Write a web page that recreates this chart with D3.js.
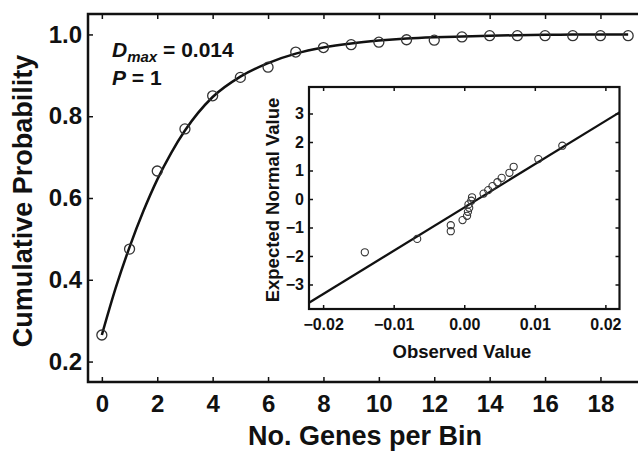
<!DOCTYPE html>
<html>
<head>
<meta charset="utf-8">
<script src="https://cdn.jsdelivr.net/npm/d3@7"></script>
<style>
  html, body { margin: 0; padding: 0; background: #fff; }
  svg { display: block; }
  text { font-family: "Liberation Sans", Arial, sans-serif; font-weight: bold; fill: #111; }
</style>
</head>
<body>
<svg id="chart" width="638" height="452"></svg>
<script>
// ---- Main chart data ----
const binX = [0,1,2,3,4,5,6,7,8,9,10,11,12,13,14,15,16,17,18,19];
const observedCum = [0.265,0.475,0.666,0.769,0.850,0.895,0.920,0.957,0.968,0.975,0.981,0.987,0.986,0.994,0.997,0.997,0.997,0.997,0.997,0.997];
const fitX = [0,0.5,1,1.5,2,2.5,3,4,5,6,7,8,9,10,11,12,13,14,15,16,17,18,19];
const fitCum = [0.265,0.38,0.48,0.568,0.645,0.71,0.765,0.847,0.897,0.930,0.953,0.968,0.978,0.985,0.990,0.993,0.995,0.997,0.998,0.999,1.0,1.0,1.0];
const mainXTicks = [0,2,4,6,8,10,12,14,16,18];
const mainYTicks = [0.2,0.4,0.6,0.8,1.0];

// ---- Inset (Q-Q) data ----
const qqObserved = [-0.01409,-0.00667,-0.00191,-0.00191,-0.00024,0.00040,0.00052,0.00070,0.00060,0.00100,0.00110,0.00274,0.00340,0.00400,0.00470,0.00530,0.00640,0.00700,0.01050,0.01390];
const qqExpected = [-1.87,-1.40,-1.13,-0.92,-0.74,-0.59,-0.45,-0.31,-0.19,-0.06,0.06,0.19,0.31,0.45,0.59,0.74,0.92,1.13,1.40,1.87];
const qqLineX = [-0.022, 0.022];
const qqLineY = [-3.64, 3.04];
const insetXTicks = [-0.02,-0.01,0.00,0.01,0.02];
const insetYTicks = [-3,-2,-1,0,1,2,3];

const svg = d3.select("#chart");
const ink = "#111";

// ---- Main scales ----
const x = d3.scaleLinear().domain([-0.5, 19.5]).range([88, 642]);
const y = d3.scaleLinear().domain([0.15, 1.05]).range([382, 14]);

// frame
svg.append("path")
  .attr("d", `M${x.range()[1]+10},${y.range()[1]} H${x.range()[0]} V${y.range()[0]} H${x.range()[1]+10}`)
  .attr("fill", "none").attr("stroke", ink).attr("stroke-width", 2.5);

const styleAxis = (g, fs) => {
  g.select(".domain").remove();
  g.selectAll(".tick line").attr("stroke", ink).attr("stroke-width", 1.5);
  g.selectAll(".tick text").style("font-size", fs + "px").attr("fill", ink);
};

svg.append("g").attr("transform", `translate(0,${y.range()[0]})`)
  .call(d3.axisBottom(x).tickValues(mainXTicks).tickSize(-5).tickPadding(13).tickFormat(d3.format("d")))
  .call(g => styleAxis(g, 24));
svg.append("g").attr("transform", `translate(0,${y.range()[1]})`)
  .call(d3.axisTop(x).tickValues(mainXTicks).tickSize(-5).tickFormat(""))
  .call(g => styleAxis(g, 24));
svg.append("g").attr("transform", `translate(${x.range()[0]},0)`)
  .call(d3.axisLeft(y).tickValues(mainYTicks).tickSize(-5).tickPadding(6).tickFormat(d3.format(".1f")))
  .call(g => styleAxis(g, 24));

// fitted curve
svg.append("path")
  .datum(fitX.map((d, i) => [d, fitCum[i]]))
  .attr("d", d3.line().x(d => x(d[0])).y(d => y(d[1])).curve(d3.curveMonotoneX))
  .attr("fill", "none").attr("stroke", ink).attr("stroke-width", 2.5);

// observed points
svg.append("g").selectAll("circle")
  .data(binX.map((d, i) => [d, observedCum[i]]))
  .join("circle")
  .attr("cx", d => x(d[0])).attr("cy", d => y(d[1])).attr("r", 5)
  .attr("fill", "none").attr("stroke", "#333").attr("stroke-width", 1.3);

// axis titles
svg.append("text")
  .attr("x", 365).attr("y", 445)
  .attr("text-anchor", "middle").style("font-size", "27px")
  .text("No. Genes per Bin");
svg.append("text")
  .attr("transform", "translate(32,201) rotate(-90)")
  .attr("text-anchor", "middle").style("font-size", "27px")
  .text("Cumulative Probability");

// annotation
const ann = svg.append("text").attr("x", 112).attr("y", 57).style("font-size", "21px");
ann.append("tspan").style("font-style", "italic").text("D");
ann.append("tspan").style("font-style", "italic").style("font-size", "15px").attr("dy", 5).text("max");
ann.append("tspan").attr("dy", -5).text(" = 0.014");
const ann2 = svg.append("text").attr("x", 112).attr("y", 85).style("font-size", "21px");
ann2.append("tspan").style("font-style", "italic").text("P");
ann2.append("tspan").text(" = 1");

// ---- Inset ----
const ix = d3.scaleLinear().domain([-0.022, 0.022]).range([309, 619.5]);
const iy = d3.scaleLinear().domain([-3.86, 3.93]).range([309, 87]);

svg.append("rect")
  .attr("x", ix.range()[0]).attr("y", iy.range()[1])
  .attr("width", ix.range()[1] - ix.range()[0]).attr("height", iy.range()[0] - iy.range()[1])
  .attr("fill", "#fff").attr("stroke", ink).attr("stroke-width", 2.2);

svg.append("g").attr("transform", `translate(0,${iy.range()[0]})`)
  .call(d3.axisBottom(ix).tickValues(insetXTicks).tickSize(-4).tickPadding(10).tickFormat(d3.format(".2f")))
  .call(g => styleAxis(g, 16));
svg.append("g").attr("transform", `translate(0,${iy.range()[1]})`)
  .call(d3.axisTop(ix).tickValues(insetXTicks).tickSize(-4).tickFormat(""))
  .call(g => styleAxis(g, 16));
svg.append("g").attr("transform", `translate(${ix.range()[0]},0)`)
  .call(d3.axisLeft(iy).tickValues(insetYTicks).tickSize(-4).tickPadding(5).tickFormat(d3.format("d")))
  .call(g => styleAxis(g, 16));
svg.append("g").attr("transform", `translate(${ix.range()[1]},0)`)
  .call(d3.axisRight(iy).tickValues(insetYTicks).tickSize(-4).tickFormat(""))
  .call(g => styleAxis(g, 16));

// reference line
svg.append("path")
  .datum(qqLineX.map((d, i) => [d, qqLineY[i]]))
  .attr("d", d3.line().x(d => ix(d[0])).y(d => iy(d[1])))
  .attr("fill", "none").attr("stroke", ink).attr("stroke-width", 2.3);

svg.append("g").selectAll("circle")
  .data(qqObserved.map((d, i) => [d, qqExpected[i]]))
  .join("circle")
  .attr("cx", d => ix(d[0])).attr("cy", d => iy(d[1])).attr("r", 3.6)
  .attr("fill", "none").attr("stroke", "#333").attr("stroke-width", 1.1);

svg.append("text")
  .attr("x", 462).attr("y", 358).attr("text-anchor", "middle").style("font-size", "18.5px")
  .text("Observed Value");
svg.append("text")
  .attr("transform", "translate(279,200) rotate(-90)")
  .attr("text-anchor", "middle").style("font-size", "18.5px")
  .text("Expected Normal Value");
</script>
</body>
</html>
